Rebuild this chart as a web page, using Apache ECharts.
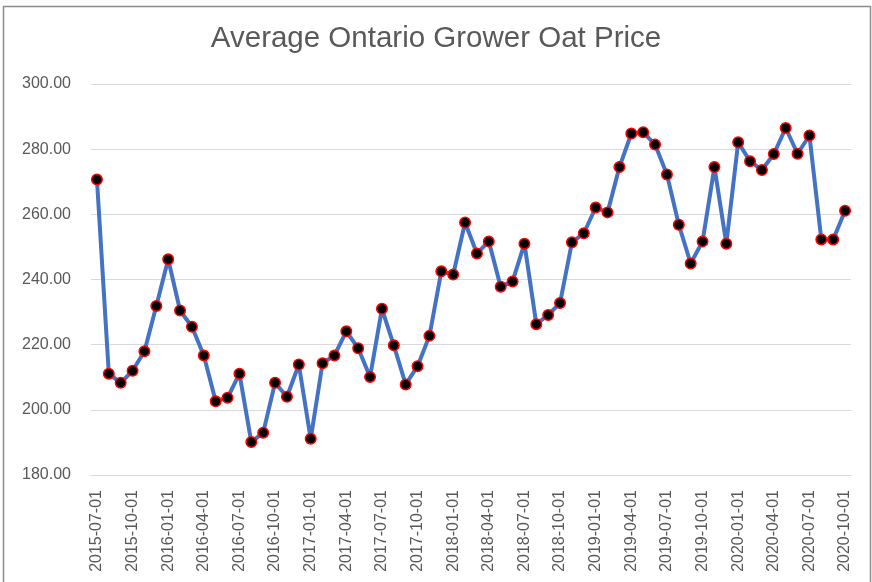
<!DOCTYPE html>
<html>
<head>
<meta charset="utf-8">
<title>Average Ontario Grower Oat Price</title>
<script src="https://cdn.jsdelivr.net/npm/echarts@6/dist/echarts.min.js"></script>
<style>
  html, body { margin: 0; padding: 0; background: #fff; }
  #chart { width: 872px; height: 582px; }
</style>
</head>
<body>
<div id="chart"></div>
<script>
// months, one per point
const months = [
  '2015-07-01', '2015-08-01', '2015-09-01', '2015-10-01', '2015-11-01', '2015-12-01',
  '2016-01-01', '2016-02-01', '2016-03-01', '2016-04-01', '2016-05-01', '2016-06-01',
  '2016-07-01', '2016-08-01', '2016-09-01', '2016-10-01', '2016-11-01', '2016-12-01',
  '2017-01-01', '2017-02-01', '2017-03-01', '2017-04-01', '2017-05-01', '2017-06-01',
  '2017-07-01', '2017-08-01', '2017-09-01', '2017-10-01', '2017-11-01', '2017-12-01',
  '2018-01-01', '2018-02-01', '2018-03-01', '2018-04-01', '2018-05-01', '2018-06-01',
  '2018-07-01', '2018-08-01', '2018-09-01', '2018-10-01', '2018-11-01', '2018-12-01',
  '2019-01-01', '2019-02-01', '2019-03-01', '2019-04-01', '2019-05-01', '2019-06-01',
  '2019-07-01', '2019-08-01', '2019-09-01', '2019-10-01', '2019-11-01', '2019-12-01',
  '2020-01-01', '2020-02-01', '2020-03-01', '2020-04-01', '2020-05-01', '2020-06-01',
  '2020-07-01', '2020-08-01', '2020-09-01', '2020-10-01'
]

// average price ($/tonne)
const prices = [
  270.7, 211.1, 208.3, 212.0, 218.0, 231.9,
  246.2, 230.5, 225.5, 216.7, 202.6, 203.7,
  211.1, 190.1, 193.0, 208.3, 204.0, 213.9,
  191.1, 214.3, 216.7, 224.1, 218.9, 210.1,
  231.0, 219.8, 207.8, 213.4, 222.7, 242.5,
  241.5, 257.5, 248.0, 251.7, 237.8, 239.4,
  251.0, 226.3, 229.1, 232.8, 251.4, 254.2,
  262.1, 260.6, 274.5, 284.8, 285.2, 281.4,
  272.2, 256.8, 244.9, 251.7, 274.5, 251.0,
  282.1, 276.3, 273.6, 278.5, 286.5, 278.6,
  284.2, 252.3, 252.3, 261.1
]

const yTicks = { min: 180, max: 300, step: 20 }

const chart = echarts.init(document.getElementById('chart'), null, { renderer: 'canvas' })

chart.setOption({
  animation: false,
  backgroundColor: '#fff',
  textStyle: { fontFamily: 'Liberation Sans, Arial, sans-serif' },
  title: {
    text: 'Average Ontario Grower Oat Price',
    left: 'center',
    top: 19,
    textStyle: { fontSize: 29.5, fontWeight: 'normal', color: '#595959' }
  },
  graphic: [{
    type: 'rect',
    shape: { x: 3.5, y: 6.5, width: 867, height: 600 },
    style: { fill: 'none', stroke: '#8c8c8c', lineWidth: 1.5 },
    silent: true
  }],
  grid: { left: 91, right: 21, top: 84, bottom: 107, containLabel: false },
  xAxis: {
    type: 'category',
    data: months,
    boundaryGap: true,
    axisLine: { show: true, lineStyle: { color: '#d9d9d9', width: 1 } },
    axisTick: { show: false },
    axisLabel: {
      interval: 2,
      rotate: 90,
      margin: 15,
      fontSize: 16,
      color: '#595959'
    },
    splitLine: { show: false }
  },
  yAxis: {
    type: 'value',
    min: yTicks.min,
    max: yTicks.max,
    interval: yTicks.step,
    axisLine: { show: false },
    axisTick: { show: false },
    axisLabel: {
      fontSize: 16,
      color: '#595959',
      margin: 20,
      formatter: v => v.toFixed(2)
    },
    splitLine: { lineStyle: { color: '#d9d9d9', width: 1 } }
  },
  series: [{
    type: 'line',
    data: prices,
    lineStyle: { color: '#4472c4', width: 4 },
    itemStyle: { color: '#000', borderColor: '#ff0000', borderWidth: 1.5 },
    symbol: 'circle',
    symbolSize: 10.5,
    showAllSymbol: true
  }]
})
</script>
</body>
</html>
